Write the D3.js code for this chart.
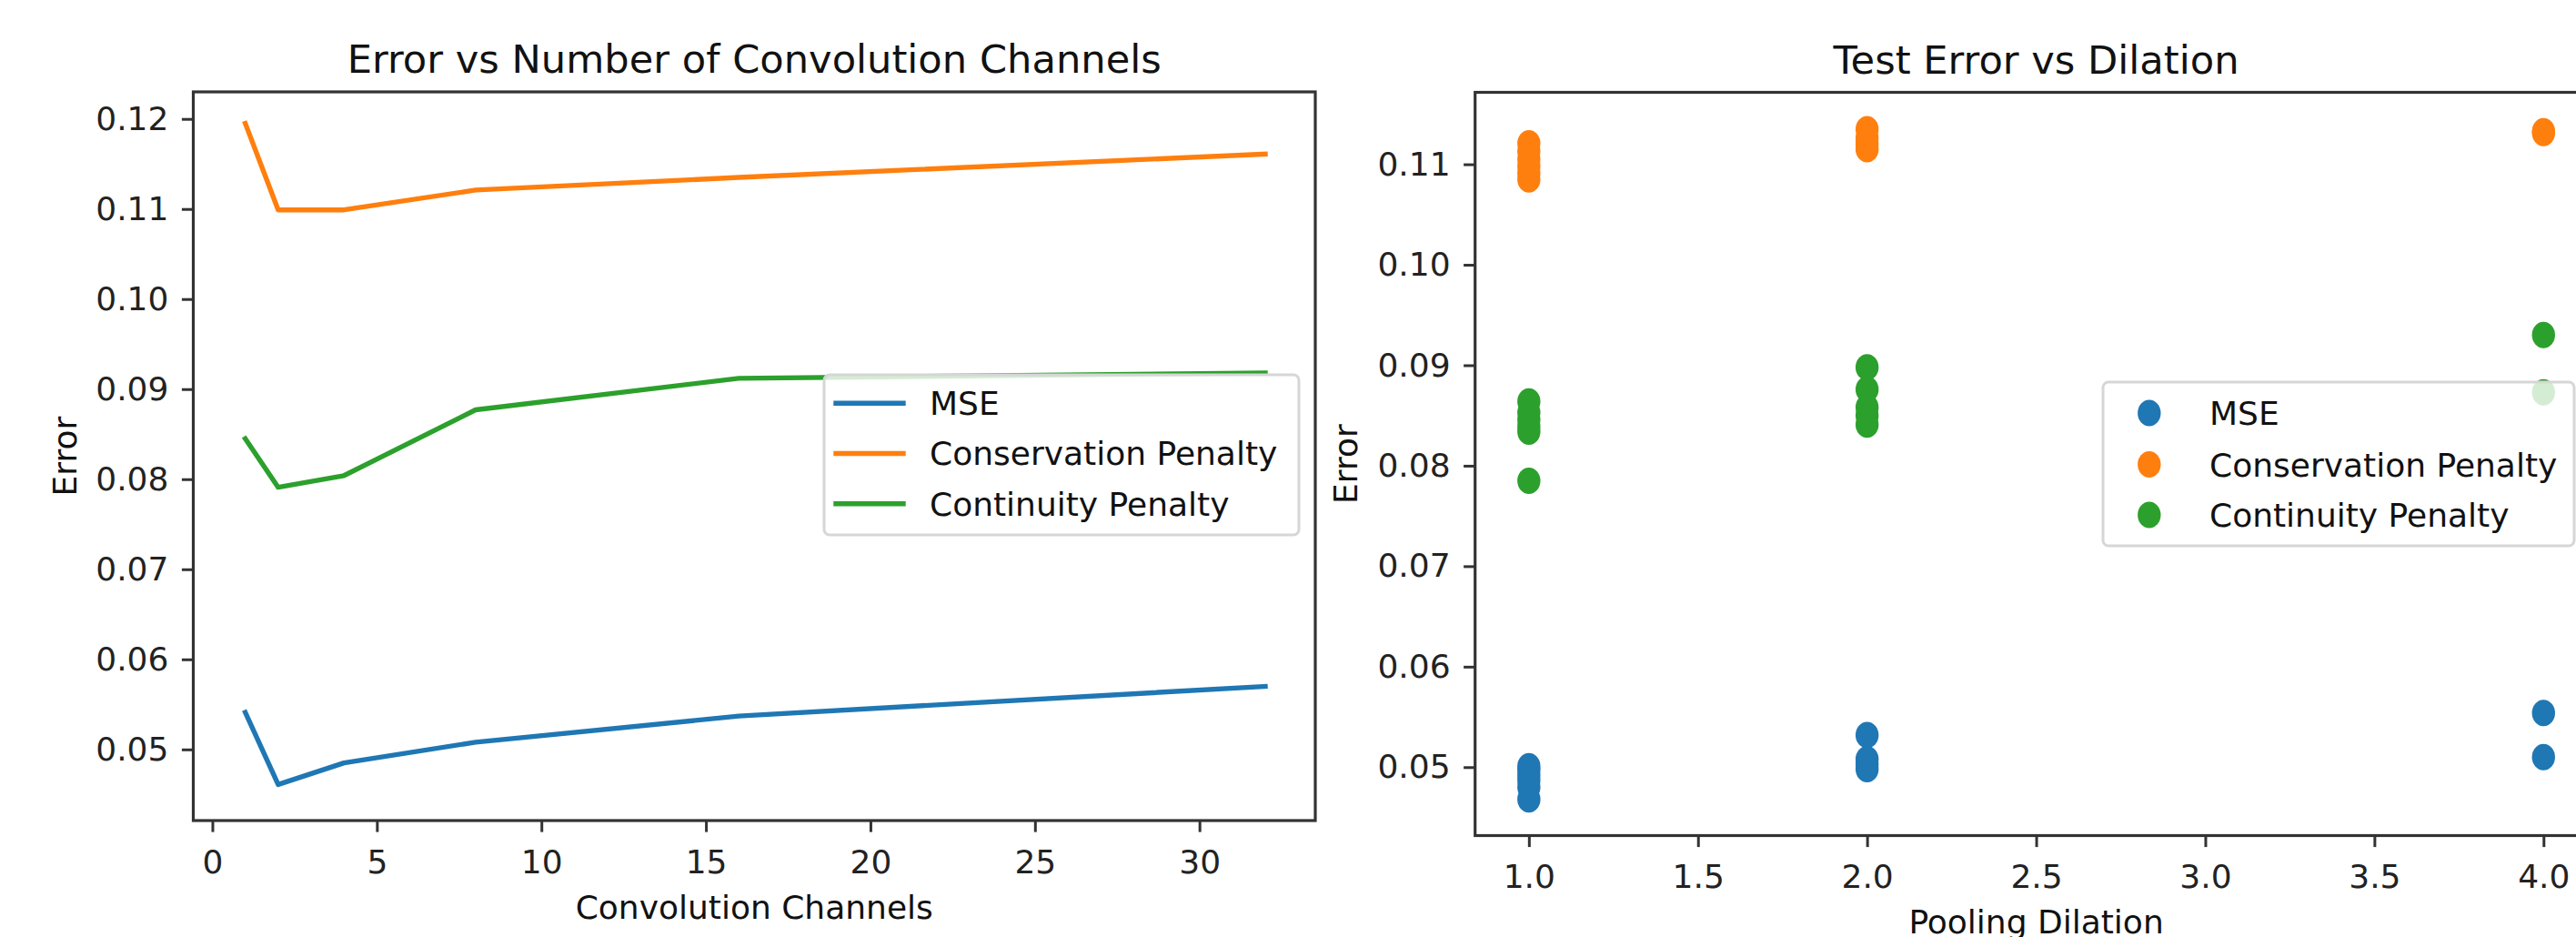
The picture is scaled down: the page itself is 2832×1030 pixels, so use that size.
<!DOCTYPE html>
<html>
<head>
<meta charset="utf-8">
<script src="https://cdn.jsdelivr.net/npm/d3@7"></script>
<style>
  html, body { margin: 0; padding: 0; background: #fff; }
  svg { display: block; font-family: "DejaVu Sans", sans-serif; }
</style>
</head>
<body>
<div id="chart"></div>
<script>
// left panel: error vs number of convolution channels
var channels = [1, 2, 4, 8, 16, 32];
var mseByChannels = [0.0541, 0.0461, 0.0485, 0.0508, 0.0537, 0.0570];
var conservationByChannels = [0.1195, 0.1099, 0.1099, 0.1121, 0.1135, 0.1161];
var continuityByChannels = [0.0845, 0.0791, 0.0804, 0.0877, 0.0912, 0.0918];

// right panel: test error vs pooling dilation (one point per run)
var mseDilation = [1, 1, 1, 1, 1, 1, 2, 2, 2, 2, 4, 4];
var mseByDilation = [0.0501, 0.0497, 0.0492, 0.0487, 0.0480, 0.0468, 0.0532, 0.0508, 0.0503, 0.0498, 0.0554, 0.0510];
var conservationDilation = [1, 1, 1, 1, 1, 1, 2, 2, 2, 2, 4, 4];
var conservationByDilation = [0.1121, 0.1113, 0.1105, 0.1098, 0.1091, 0.1085, 0.1135, 0.1126, 0.1120, 0.1115, 0.1133, 0.1131];
var continuityDilation = [1, 1, 1, 1, 1, 1, 2, 2, 2, 2, 2, 4, 4];
var continuityByDilation = [0.0864, 0.0853, 0.0846, 0.0839, 0.0834, 0.0785, 0.0898, 0.0876, 0.0858, 0.0850, 0.0841, 0.0930, 0.0873];

var seriesNames = ["MSE", "Conservation Penalty", "Continuity Penalty"];
var seriesColours = ["#1f77b4", "#ff7f0e", "#2ca02c"];

var width = 2832;
var height = 1030;
var fontSize = 36;
var tickLen = 12.6;

var svg = d3.select('#chart')
    .append('svg')
    .attr('width', width)
    .attr('height', height);

svg.append('rect')
    .attr('width', width)
    .attr('height', height)
    .attr('fill', '#fff');

// panel boxes (pixels)
var boxL = {left: 212.5, right: 1446, top: 101, bottom: 902};
var boxR = {left: 1621.7, right: 2855.4, top: 101.5, bottom: 918.5};

var x_left = d3.scaleLinear().domain([-0.58, 33.52]).range([boxL.left, boxL.right]);
var y_left = d3.scaleLinear().domain([0.0421, 0.1230]).range([boxL.bottom, boxL.top]);
var x_right = d3.scaleLinear().domain([0.841, 4.159]).range([boxR.left, boxR.right]);
var y_right = d3.scaleLinear().domain([0.04319, 0.11716]).range([boxR.bottom, boxR.top]);

function drawAxes(box, xs, ys, xFormat) {
    var gx = svg.append('g')
        .attr('class', 'x axis')
        .attr('transform', 'translate(0,' + box.bottom + ')')
        .call(d3.axisBottom(xs).ticks(7).tickFormat(d3.format(xFormat))
            .tickSize(tickLen).tickPadding(19.5));
    var gy = svg.append('g')
        .attr('class', 'y axis')
        .attr('transform', 'translate(' + box.left + ',0)')
        .call(d3.axisLeft(ys).ticks(8).tickFormat(d3.format('.2f'))
            .tickSize(tickLen).tickPadding(14.5));

    [gx, gy].forEach(function (g) {
        g.select('.domain').remove();
        g.selectAll('.tick line')
            .attr('stroke', '#333')
            .attr('stroke-width', 3);
        g.selectAll('.tick text')
            .attr('fill', '#222')
            .style('font-size', fontSize + 'px')
            .style('font-family', '"DejaVu Sans", sans-serif');
    });

    svg.append('rect')
        .attr('x', box.left)
        .attr('y', box.top)
        .attr('width', box.right - box.left)
        .attr('height', box.bottom - box.top)
        .attr('fill', 'none')
        .attr('stroke', '#333')
        .attr('stroke-width', 3.2);
}

function addText(x, y, str, size, rotate) {
    var t = svg.append('text')
        .attr('text-anchor', 'middle')
        .attr('fill', '#111')
        .style('font-size', size + 'px')
        .text(str);
    if (rotate) {
        t.attr('transform', 'translate(' + x + ',' + y + ') rotate(-90)');
    } else {
        t.attr('x', x).attr('y', y);
    }
    return t;
}

function drawLegend(box, rowY, handleX, textX, kind) {
    var lg = svg.append('g').attr('class', 'legend');
    lg.append('rect')
        .attr('x', box.x)
        .attr('y', box.y)
        .attr('width', box.w)
        .attr('height', box.h)
        .attr('rx', 6)
        .attr('fill', '#fff')
        .attr('fill-opacity', 0.8)
        .attr('stroke', '#d6d6d6')
        .attr('stroke-width', 3);

    seriesNames.forEach(function (name, i) {
        var cy = rowY[i];
        if (kind == 'line') {
            lg.append('line')
                .attr('x1', handleX[0]).attr('x2', handleX[1])
                .attr('y1', cy).attr('y2', cy)
                .attr('stroke', seriesColours[i])
                .attr('stroke-width', 5.4)
                .attr('stroke-linecap', 'square');
        } else {
            lg.append('ellipse')
                .attr('cx', handleX[0]).attr('cy', cy)
                .attr('rx', 12.7).attr('ry', 14.5)
                .attr('fill', seriesColours[i]);
        }
        lg.append('text')
            .attr('x', textX)
            .attr('y', cy)
            .attr('dy', '0.36em')
            .attr('fill', '#111')
            .style('font-size', fontSize + 'px')
            .text(name);
    });
}

// ---- left panel ----
var lineSeries = [mseByChannels, conservationByChannels, continuityByChannels];

var valueline = d3.line()
    .x(function (d, i) { return x_left(channels[i]); })
    .y(function (d) { return y_left(d); });

lineSeries.forEach(function (vals, i) {
    svg.append('path')
        .datum(vals)
        .attr('class', 'line')
        .attr('fill', 'none')
        .attr('stroke', seriesColours[i])
        .attr('stroke-width', 5.4)
        .attr('stroke-linejoin', 'round')
        .attr('stroke-linecap', 'square')
        .attr('d', valueline);
});

drawLegend({x: 906, y: 412, w: 522, h: 176}, [443.3, 498.5, 553.7], [919, 993], 1022, 'line');
drawAxes(boxL, x_left, y_left, 'd');

addText((boxL.left + boxL.right) / 2, 80, 'Error vs Number of Convolution Channels', 43.2);
addText((boxL.left + boxL.right) / 2, 1009.5, 'Convolution Channels', fontSize);
addText(83.5, (boxL.top + boxL.bottom) / 2, 'Error', fontSize, true);

// ---- right panel ----
var scatterX = [mseDilation, conservationDilation, continuityDilation];
var scatterY = [mseByDilation, conservationByDilation, continuityByDilation];

scatterY.forEach(function (vals, s) {
    svg.append('g')
        .attr('class', 'dots')
        .selectAll('ellipse')
        .data(vals)
        .enter()
        .append('ellipse')
        .attr('cx', function (d, i) { return x_right(scatterX[s][i]); })
        .attr('cy', function (d) { return y_right(d); })
        .attr('rx', 12.7)
        .attr('ry', 14.5)
        .attr('fill', seriesColours[s]);
});

drawLegend({x: 2312, y: 420, w: 518, h: 180}, [453.9, 510.6, 565.9], [2362.8], 2429, 'dot');
drawAxes(boxR, x_right, y_right, '.1f');

addText((boxR.left + boxR.right) / 2, 81, 'Test Error vs Dilation', 43.2);
addText((boxR.left + boxR.right) / 2, 1026, 'Pooling Dilation', fontSize);
addText(1492, (boxR.top + boxR.bottom) / 2, 'Error', fontSize, true);
</script>
</body>
</html>
